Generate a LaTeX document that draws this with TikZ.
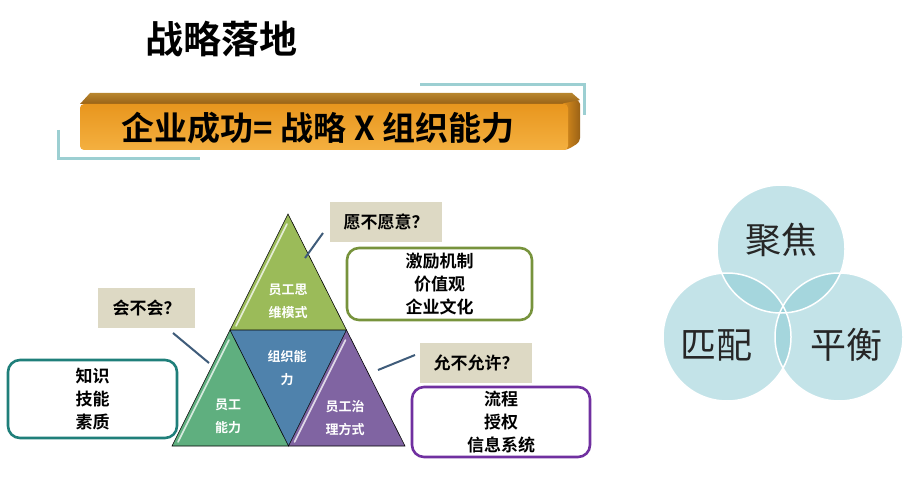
\documentclass[tikz,border=0pt]{standalone}
\usepackage{fontspec}
\setmainfont{Noto Sans CJK SC}[BoldFont={Noto Sans CJK SC Bold}]
\usetikzlibrary{calc}
\definecolor{tealline}{HTML}{9CCFD2}
\definecolor{barbrown}{HTML}{9A6216}
\definecolor{barbrownl}{HTML}{B8862E}
\definecolor{bartop}{HTML}{E8961E}
\definecolor{barbot}{HTML}{F4B040}
\definecolor{qfill}{HTML}{DDD9C4}
\definecolor{conn}{HTML}{3F5C7A}
\definecolor{tgreen}{HTML}{9BBB59}
\definecolor{tgreen2}{HTML}{5FAF7F}
\definecolor{tblue}{HTML}{4F82AC}
\definecolor{tpurple}{HTML}{8064A2}
\definecolor{bolive}{HTML}{77933C}
\definecolor{bteal}{HTML}{1F7F7A}
\definecolor{bpurple}{HTML}{7030A0}
\definecolor{circfill}{RGB}{135,200,210}
\tikzset{
  qbox/.style={fill=qfill,minimum height=40pt,inner sep=0pt,font=\fontsize{17}{20}\selectfont\bfseries},
  rbox/.style={draw,line width=2.6pt,rounded corners=12pt,fill=white,inner sep=0pt,align=center,font=\fontsize{17}{23}\selectfont\bfseries},
  conline/.style={draw=conn,line width=2pt},
  tri/.style={draw=black,line width=0.6pt},
  hilite/.style={draw=white,line width=1.6pt,opacity=0.75,line cap=round},
  ttext/.style={text=white,align=center,font=\fontsize{13}{23}\selectfont\bfseries},
  ctext/.style={font=\fontsize{36}{40}\selectfont,text=black!85},
  circ/.style={fill=circfill,fill opacity=0.5}
}
\begin{document}
\begin{tikzpicture}[x=1pt,y=-1pt]
\useasboundingbox (0,0) rectangle (909,481);
% title
\node[font=\fontsize{38}{42}\selectfont\bfseries] (title) at (221,39) {战略落地};
% teal corner lines
\draw[tealline,line width=3pt] (420,85) -- (584,85) -- (584,115);
\draw[tealline,line width=3pt] (58,130) -- (58,159) -- (200,159);
% banner bar
\shade[top color=barbrownl,bottom color=barbrown] (80,104) -- (90,93) -- (572,93) -- (580,100) -- (567,104) -- cycle;
\shade[left color=bartop,right color=barbrown,rounded corners=4pt] (560,104) -- (580,100) -- (580,142) -- (567,150) -- (560,150) -- cycle;
\shade[top color=bartop,bottom color=barbot,rounded corners=4pt] (80,104) rectangle (568,150);
\node[font=\fontsize{33}{36}\selectfont\bfseries] (banner) at (318,128) {企业成功= 战略 X 组织能力};
% triangle
\coordinate (A) at (288,214);
\coordinate (B) at (172,446);
\coordinate (C) at (405,446);
\coordinate (AB) at ($(A)!0.5!(B)$);
\coordinate (AC) at ($(A)!0.5!(C)$);
\coordinate (BC) at ($(B)!0.5!(C)$);
\fill[tgreen] (A) -- (AB) -- (AC) -- cycle;
\fill[tgreen2] (AB) -- (B) -- (BC) -- cycle;
\fill[tblue] (AB) -- (AC) -- (BC) -- cycle;
\fill[tpurple] (AC) -- (BC) -- (C) -- cycle;
\draw[hilite] ($(A)+(-1,10)$) -- ($(AB)+(6,-4)$);
\draw[hilite] ($(AB)+(-1,10)$) -- ($(B)+(6,-4)$);
\draw[hilite] ($(AC)+(-1,10)$) -- ($(BC)+(6,-4)$);
\draw[tri] (A) -- (B) -- (C) -- cycle;
\draw[tri] (AB) -- (AC) -- (BC) -- cycle;
\node[ttext] (t1) at (288,301) {员工思\\维模式};
\node[ttext] (t2) at (228,416) {员工\\能力};
\node[ttext] (t3) at (287,368) {组织能\\力};
\node[ttext] (t4) at (345,418) {员工治\\理方式};
% question boxes
\node[qbox,minimum width=112pt] (q1) at (386,222) {愿不愿意？};
\node[qbox,minimum width=97pt] (q2) at (146.5,308) {会不会？};
\node[qbox,minimum width=112pt] (q3) at (476,363) {允不允许？};
\coordinate (q1e) at (323,233);
\coordinate (q1t) at (305,258);
\coordinate (q2e) at (173,333);
\coordinate (q2t) at (209,363);
\coordinate (q3e) at (415,355);
\coordinate (q3t) at (378,370);
\draw[conline] (q1e) -- (q1t);
\draw[conline] (q2e) -- (q2t);
\draw[conline] (q3e) -- (q3t);
% rounded boxes
\node[rbox,draw=bolive,minimum width=185pt,minimum height=72pt] (b1) at (439.5,284) {激励机制\\价值观\\企业文化};
\node[rbox,draw=bteal,minimum width=169pt,minimum height=78pt] (b2) at (92.5,399) {知识\\技能\\素质};
\node[rbox,draw=bpurple,minimum width=178pt,minimum height=70pt] (b3) at (501,422) {流程\\授权\\信息系统};
% circles
\coordinate (c1) at (781,249);
\coordinate (c2) at (727,337);
\coordinate (c3) at (839,337);
\fill[circ] (c1) circle (64);
\fill[circ] (c2) circle (64);
\fill[circ] (c3) circle (64);
\draw[white,line width=1.5pt] (c1) circle (64);
\draw[white,line width=1.5pt] (c2) circle (64);
\draw[white,line width=1.5pt] (c3) circle (64);
\node[ctext] (n1) at (781,240) {聚焦};
\node[ctext] (n2) at (716,345) {匹配};
\node[ctext] (n3) at (846,345) {平衡};
\end{tikzpicture}
\end{document}
